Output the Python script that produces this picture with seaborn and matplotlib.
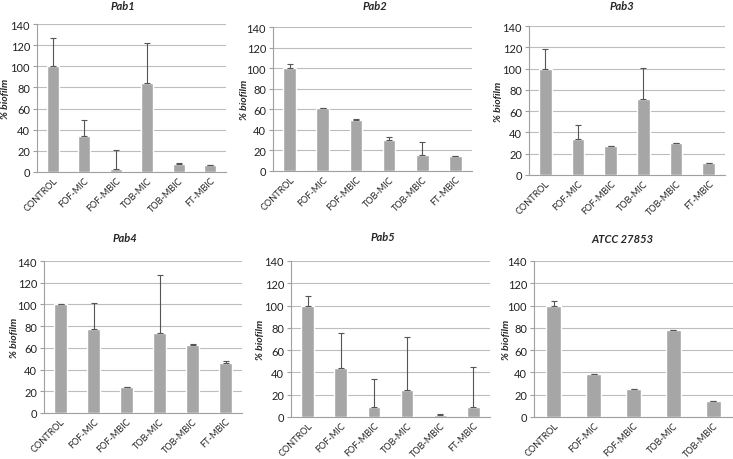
import numpy as np
import pandas as pd
import matplotlib
matplotlib.use("Agg")
import matplotlib.pyplot as plt
import seaborn as sns

sns.set_theme(style="white")
plt.rcParams['font.family'] = ['Lato', 'DejaVu Sans']

cats6 = ["CONTROL", "FOF-MIC", "FOF-MBIC", "TOB-MIC", "TOB-MBIC", "FT-MBIC"]
cats5 = ["CONTROL", "FOF-MIC", "FOF-MBIC", "TOB-MIC", "TOB-MBIC"]

titles = ["Pab1", "Pab2", "Pab3", "Pab4", "Pab5", "ATCC 27853"]

pab1 = [100, 34, 3, 84, 8, 6.5]
pab1_err = [27, 15, 18, 38, 0.3, 0.3]
pab2 = [100, 61, 50, 30, 15.5, 14.5]
pab2_err = [4, 0.5, 0.3, 3, 13, 0.3]
pab3 = [100, 34, 27, 71, 30, 11]
pab3_err = [18, 13, 0.3, 30, 0.5, 0.3]
pab4 = [100, 77, 23.5, 73.5, 63, 46.5]
pab4_err = [0.3, 24, 0.5, 54, 1, 1]
pab5 = [100, 44, 9, 24, 2, 9]
pab5_err = [9, 31, 25, 48, 0.5, 36]
atcc = [100, 38.5, 25, 78, 14.5]
atcc_err = [4, 0.5, 0.5, 0.3, 0.3]

panels = [
    (cats6, pab1, pab1_err),
    (cats6, pab2, pab2_err),
    (cats6, pab3, pab3_err),
    (cats6, pab4, pab4_err),
    (cats6, pab5, pab5_err),
    (cats5, atcc, atcc_err),
]

W, H = 733, 460
# pixel boxes: left, right, top, bottom
boxes = [
    (37, 226, 25, 173),
    (273, 472, 28, 172),
    (529, 725, 27, 176),
    (44, 242, 262, 414),
    (291, 490, 262, 418),
    (534, 733, 262, 418),
]
# title centre positions (px) and y-label centre x (px)
title_pos = [(123, 7), (375, 6), (622, 6), (125, 239), (383, 238), (623, 240)]
ylab_x = [6, 244, 498, 14, 260, 507]

fig = plt.figure(figsize=(W / 100, H / 100), dpi=100)
bar_color = "#A6A6A6"
grid_color = "#BDBDBD"
axis_color = "#A0A0A0"

for i, ((cats, vals, errs), title, (l, r, t, b)) in enumerate(zip(panels, titles, boxes)):
    ax = fig.add_axes([l / W, 1 - b / H, (r - l) / W, (b - t) / H])
    df = pd.DataFrame({"cat": cats, "val": vals})
    sns.barplot(data=df, x="cat", y="val", color=bar_color, width=0.38,
                saturation=1, ax=ax, zorder=3, errorbar=None)
    x = np.arange(len(cats))
    ax.errorbar(x, vals, yerr=[np.zeros(len(errs)), errs], fmt="none",
                ecolor="#555555", elinewidth=0.8, capsize=2.5, capthick=0.8, zorder=4)
    ax.set_ylim(0, 140)
    ax.set_xlim(-0.5, len(cats) - 0.5)
    ax.set_yticks(np.arange(0, 141, 20))
    ax.yaxis.grid(True, color=grid_color, linewidth=0.8, zorder=0)
    ax.set_axisbelow(True)
    for s in ["top", "right"]:
        ax.spines[s].set_visible(False)
    ax.spines["left"].set_color(axis_color)
    ax.spines["bottom"].set_color(axis_color)
    ax.spines["left"].set_linewidth(0.8)
    ax.spines["bottom"].set_linewidth(0.8)
    ax.set_xticks(x)
    ax.set_xticklabels(cats, rotation=45, ha="right", rotation_mode="anchor",
                       fontsize=6.6, color="#222222")
    ax.tick_params(axis="x", which="major", length=0, pad=2.5)
    ax.set_xticks(np.arange(-0.5, len(cats), 1), minor=True)
    ax.tick_params(axis="x", which="minor", length=3, color=axis_color, width=0.8, direction="out")
    ax.tick_params(axis="y", length=3, color=axis_color, width=0.8, labelsize=8,
                   labelcolor="#222222", pad=2, left=True, direction="out")
    ax.set_xlabel("")
    ax.set_ylabel("% biofilm", fontsize=7.5, fontweight="bold", fontstyle="italic")
    ax.yaxis.set_label_coords((ylab_x[i] + 4.5 - l) / (r - l), 0.5)
    tx, ty = title_pos[i]
    fig.text(tx / W, 1 - ty / H, title, fontsize=8, fontweight="bold",
             fontstyle="italic", ha="center", va="center")

fig.savefig("out.png", dpi=100)
